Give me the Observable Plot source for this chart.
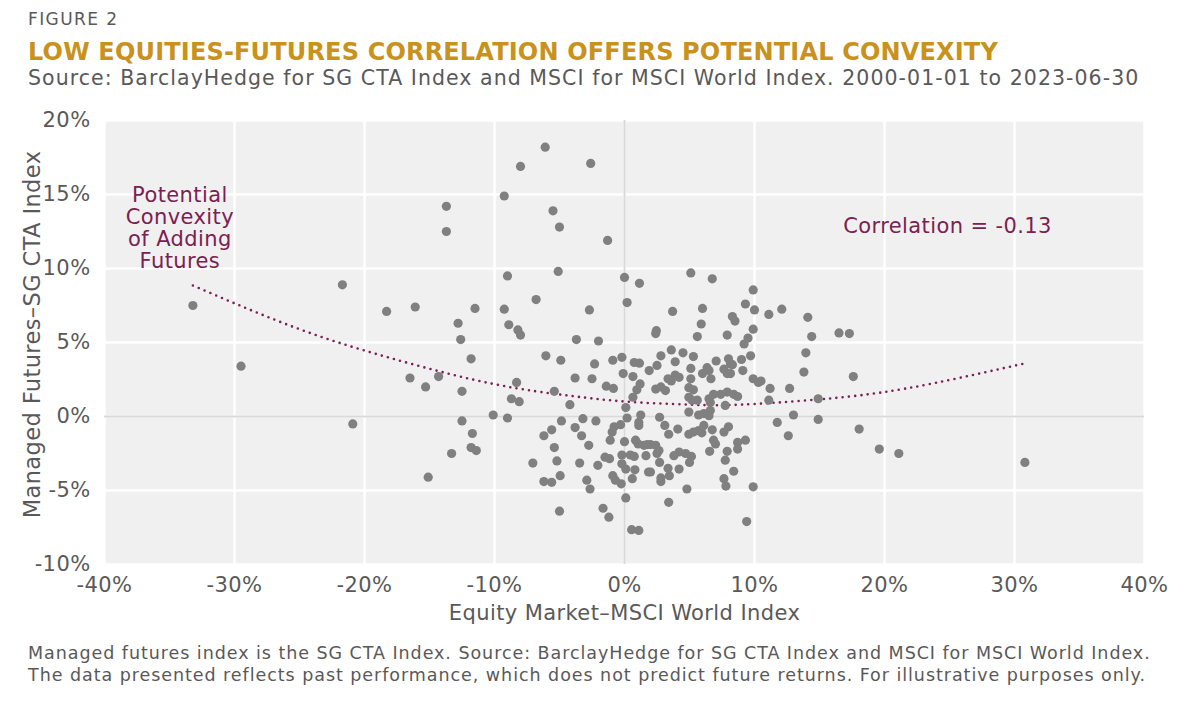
<!DOCTYPE html>
<html><head><meta charset="utf-8">
<script src="https://cdn.jsdelivr.net/npm/d3@7"></script>
<script src="https://cdn.jsdelivr.net/npm/@observablehq/plot@0.6"></script>
<style>
html,body{margin:0;padding:0;background:#fff;}
body{width:1201px;height:702px;overflow:hidden;position:relative;font-family:"DejaVu Sans",sans-serif;}
.t{position:absolute;left:28px;white-space:nowrap;}
#fig{top:11px;font-size:17px;line-height:17px;letter-spacing:1.4px;color:#595959;}
#title{top:39px;font-size:24px;line-height:26px;letter-spacing:0.17px;font-weight:bold;color:#c8921c;}
#sub{top:67px;font-size:20.5px;line-height:22px;letter-spacing:1.05px;color:#595959;}
#cap{top:642px;font-size:17.5px;line-height:22px;letter-spacing:0.95px;color:#595959;}
#chart{position:absolute;left:0;top:100px;}
#chart svg text{letter-spacing:0.4px;}
</style></head>
<body>
<div class="t" id="fig">FIGURE 2</div>
<div class="t" id="title">LOW EQUITIES-FUTURES CORRELATION OFFERS POTENTIAL CONVEXITY</div>
<div class="t" id="sub">Source: BarclayHedge for SG CTA Index and MSCI for MSCI World Index. 2000-01-01 to 2023-06-30</div>
<div id="chart"></div>
<div class="t" id="cap">Managed futures index is the SG CTA Index. Source: BarclayHedge for SG CTA Index and MSCI for MSCI World Index.<br>The data presented reflects past performance, which does not predict future returns. For illustrative purposes only.</div>
<script>
// Monthly returns (%): equity (MSCI World) vs managed futures (SG CTA)
const equity = [-33.2,-29.5,-21.7,-18.3,-20.9,-16.1,-16.5,-15.3,-15.1,-14.3,-13.7,-13.7,-13.3,-12.8,-12.6,-12.5,-12.5,-11.8,-11.7,-11.8,-11.4,-11.5,-10.1,-9.25,-9.25,-9.0,-9.0,-8.9,-8.7,-8.3,-8.2,-8.1,-8.0,-8.0,-7.05,-6.8,-6.2,-6.2,-6.1,-6.05,-5.6,-5.6,-5.5,-5.4,-5.4,-5.2,-5.1,-5.0,-5.0,-4.95,-4.9,-4.85,-4.2,-3.8,-3.8,-3.7,-3.45,-3.3,-3.2,-2.9,-2.75,-2.7,-2.65,-2.6,-2.5,-2.3,-2.2,-2.05,-2.0,-1.65,-1.5,-1.4,-1.3,-1.2,-1.15,-1.1,-0.95,-0.9,-0.9,-0.85,-0.8,-0.7,-0.3,-0.25,-0.2,-0.2,-0.2,-0.1,0.0,0.0,0.1,0.1,0.1,0.2,0.2,0.45,0.55,0.6,0.65,0.65,0.75,0.75,0.8,0.85,0.95,1.05,1.1,1.1,1.1,1.15,1.15,1.2,1.25,1.5,1.65,1.75,1.85,1.9,2.0,2.0,2.4,2.45,2.4,2.4,2.5,2.5,2.65,2.7,2.7,2.8,2.8,2.8,2.8,3.1,3.15,3.35,3.35,3.4,3.4,3.45,3.6,3.6,3.7,3.8,3.9,3.9,4.1,4.2,4.2,4.2,4.5,4.7,4.8,4.95,4.95,4.95,4.95,5.0,5.1,5.1,5.1,5.15,5.2,5.3,5.3,5.3,5.6,5.6,5.7,5.7,5.9,5.95,6.0,6.0,6.1,6.1,6.35,6.5,6.5,6.5,6.55,6.6,6.6,6.65,6.75,6.75,6.85,6.85,7.0,7.05,7.4,7.65,7.65,7.65,7.75,7.75,7.8,7.9,7.9,7.9,7.9,8.0,8.0,8.15,8.15,8.3,8.3,8.4,8.4,8.5,8.7,8.7,8.7,9.0,9.1,9.2,9.3,9.3,9.4,9.5,9.7,9.9,9.9,9.9,9.9,10.0,10.3,10.5,11.1,11.1,11.2,11.75,12.1,12.6,12.7,13.0,13.8,13.95,14.1,14.4,14.9,14.9,16.5,17.3,17.6,18.05,19.6,21.1,30.8];
const futures = [7.5,3.4,8.9,7.1,-0.5,7.4,2.6,2.0,-4.1,2.7,14.2,12.5,-2.5,6.3,5.2,1.7,-0.3,3.9,-1.15,-2.1,-2.3,7.3,0.1,14.9,7.25,9.5,-0.1,6.2,1.2,2.3,5.85,1.0,16.9,5.5,-3.15,7.9,-1.3,-4.4,18.2,4.1,-0.9,-4.45,13.9,1.7,-2.1,-3.0,9.8,12.8,-6.4,-4.0,3.8,-0.3,0.8,2.6,-0.75,5.2,-3.15,-1.3,-0.15,-4.3,-1.95,7.2,-4.9,17.1,2.55,3.55,-0.3,-3.3,5.1,-6.2,-2.75,2.05,11.9,-6.8,-2.85,-1.6,-1.05,3.8,-4.0,1.9,-0.7,-4.3,-0.55,-4.55,4.0,-2.6,-3.2,2.9,9.4,-1.7,0.6,-3.55,-5.5,7.7,-0.1,-2.6,-7.65,-4.2,2.7,1.3,3.65,-2.7,-3.6,-1.6,1.8,-1.85,-0.4,-0.6,-7.7,3.6,9.0,2.2,0.1,-1.95,-2.65,-1.9,-3.75,3.1,-1.9,-3.75,5.6,5.8,1.85,-1.95,3.45,-2.5,-2.3,-0.05,-3.1,4.1,2.0,-4.15,-4.4,-0.6,1.75,2.55,-3.5,-1.2,-5.8,-4.0,4.5,2.4,7.1,-2.65,3.7,2.8,-0.85,2.65,-2.4,-3.55,4.3,-2.5,-4.9,1.95,1.3,0.3,-1.2,-3.1,9.7,3.25,2.55,-2.7,1.1,4.05,1.8,-1.05,5.4,1.1,0.1,-0.95,6.25,-1.1,7.3,2.9,0.2,-0.6,3.3,3.1,1.2,0.05,-2.35,0.95,0.4,2.55,9.3,-0.9,1.5,-1.6,-1.85,3.75,1.5,3.2,-1.05,-4.2,0.75,-2.95,-4.7,5.5,2.9,1.65,-2.35,3.9,-0.7,3.55,2.9,6.75,3.5,1.5,-3.7,6.45,1.35,-1.75,-2.2,3.85,3.1,4.9,7.6,-1.6,-7.1,5.3,4.1,8.55,5.9,2.55,-4.75,7.2,2.3,2.4,6.9,1.1,1.9,-0.4,7.25,-1.3,1.9,0.1,3.0,4.3,6.7,5.4,1.2,-0.2,5.65,5.6,2.7,-0.85,-2.2,-2.5,-3.1];

// Polynomial trend line
const trendX = [-33.2,-25,-17.4,-10.1,-4.2,0.2,5,8.9,14.9,21.7,30.6];
const trendY = [8.85,5.9,3.8,2.2,1.4,1.0,0.8,0.8,1.15,1.9,3.55];

const xTicks = [-40,-30,-20,-10,0,10,20,30,40];
const yTicks = [-10,-5,0,5,10,15,20];

const xLabel = "Equity Market–MSCI World Index";
const yLabel = "Managed Futures–SG CTA Index";
const noteLeft = "Potential\nConvexity\nof Adding\nFutures";
const noteRight = "Correlation = -0.13";

const points = equity.map((e, i) => ({x: e, y: futures[i]}));
const trend = trendX.map((x, i) => ({x, y: trendY[i]}));

const maroon = "#7b2151";
const tickColor = "#595959";

const chart = Plot.plot({
  width: 1201,
  height: 540,
  marginTop: 20,
  marginBottom: 76,
  marginLeft: 104,
  marginRight: 57,
  style: {fontFamily: "DejaVu Sans, sans-serif", fontSize: "21px", color: tickColor, background: "transparent"},
  x: {domain: [-40, 40]},
  y: {domain: [-10, 20]},
  marks: [
    Plot.frame({fill: "#f0f0f0", stroke: null}),
    Plot.ruleX(xTicks, {stroke: "#ffffff", strokeWidth: 2.5}),
    Plot.ruleY(yTicks, {stroke: "#ffffff", strokeWidth: 2.5}),
    Plot.ruleX([0], {stroke: "#d9d9d9", strokeWidth: 2}),
    Plot.ruleY([0], {stroke: "#d9d9d9", strokeWidth: 2}),
    Plot.line(trend, {x: "x", y: "y", curve: "natural", stroke: maroon, strokeWidth: 2.6, strokeDasharray: "0 6.3", strokeLinecap: "round"}),
    Plot.dot(points, {x: "x", y: "y", r: 4.6, fill: "#808080"}),
    Plot.text([noteLeft], {x: -34.2, y: 12.75, text: d => d, fill: maroon, fontSize: 21, lineHeight: 1.06, textAnchor: "middle"}),
    Plot.text([noteRight], {x: 24.85, y: 12.84, text: d => d, fill: maroon, fontSize: 21, textAnchor: "middle"}),
    Plot.axisX(xTicks, {tickSize: 0, tickPadding: 13, tickFormat: d => d + "%", label: null, fontSize: 21, fill: tickColor}),
    Plot.axisY(yTicks, {tickSize: 0, tickPadding: 14, tickFormat: d => d + "%", label: null, fontSize: 21, fill: tickColor}),
    Plot.text([xLabel], {frameAnchor: "bottom", dy: 49, text: d => d, fontSize: 21, fill: tickColor, lineAnchor: "middle", textAnchor: "middle"}),
    Plot.text([yLabel], {frameAnchor: "left", dx: -72, dy: -8, rotate: -90, text: d => d, fontSize: 22.5, fill: tickColor, lineAnchor: "middle", textAnchor: "middle"})
  ]
});
document.getElementById("chart").appendChild(chart);
</script>
</body></html>
